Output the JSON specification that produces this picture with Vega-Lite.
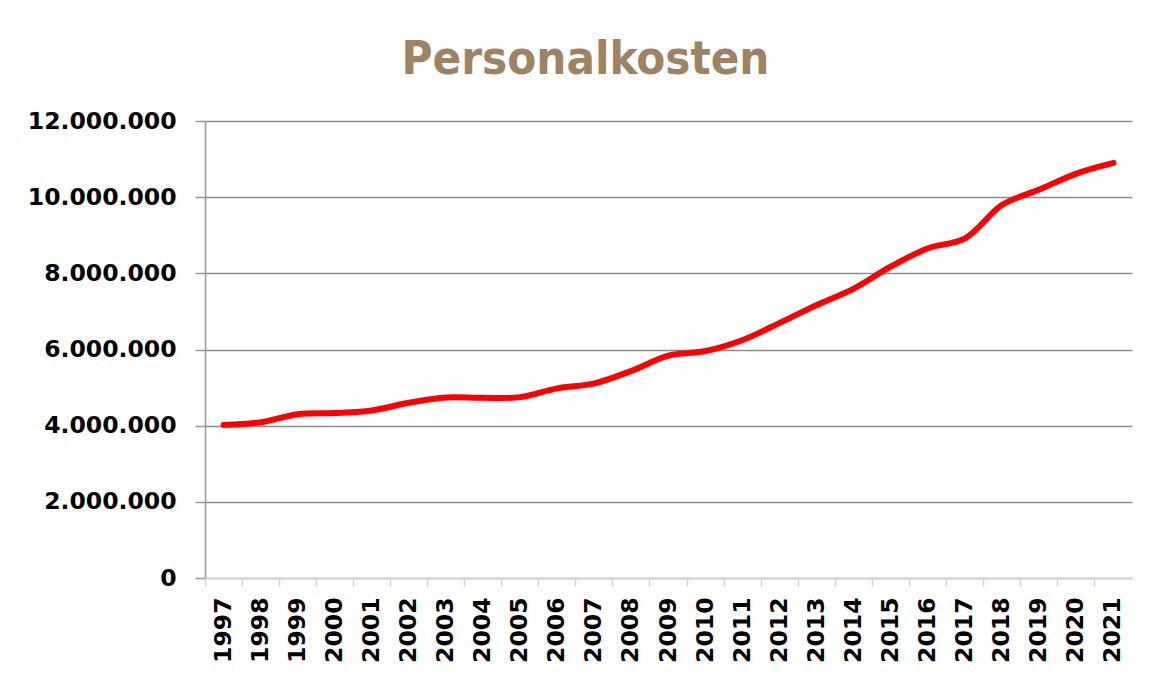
{
  "$schema": "https://vega.github.io/schema/vega-lite/v6.json",
  "width": 927,
  "height": 457,
  "autosize": {"type": "none"},
  "padding": {"left": 205, "top": 121, "right": 21, "bottom": 95},
  "background": "white",
  "title": {
    "text": "Personalkosten",
    "font": "DejaVu Sans Condensed, DejaVu Sans",
    "fontSize": 47,
    "fontWeight": "bold",
    "color": "#9e8262",
    "anchor": "middle",
    "offset": 25,
    "dx": -83
  },
  "config": {
    "locale": {"number": {"decimal": ",", "thousands": ".", "grouping": [3], "currency": ["", " €"]}},
    "view": {"stroke": null},
    "axis": {
      "labelFont": "DejaVu Sans",
      "labelFontWeight": "bold",
      "labelFontSize": 23.5,
      "labelColor": "#000000",
      "title": null
    }
  },
  "data": {
    "values": [
      {"year": "1997", "value": 4020000},
      {"year": "1998", "value": 4090000},
      {"year": "1999", "value": 4300000},
      {"year": "2000", "value": 4330000},
      {"year": "2001", "value": 4400000},
      {"year": "2002", "value": 4600000},
      {"year": "2003", "value": 4740000},
      {"year": "2004", "value": 4730000},
      {"year": "2005", "value": 4750000},
      {"year": "2006", "value": 4980000},
      {"year": "2007", "value": 5110000},
      {"year": "2008", "value": 5440000},
      {"year": "2009", "value": 5840000},
      {"year": "2010", "value": 5960000},
      {"year": "2011", "value": 6250000},
      {"year": "2012", "value": 6700000},
      {"year": "2013", "value": 7170000},
      {"year": "2014", "value": 7600000},
      {"year": "2015", "value": 8180000},
      {"year": "2016", "value": 8660000},
      {"year": "2017", "value": 8920000},
      {"year": "2018", "value": 9800000},
      {"year": "2019", "value": 10200000},
      {"year": "2020", "value": 10620000},
      {"year": "2021", "value": 10900000}
    ]
  },
  "mark": {"type": "line", "color": "#ff0000", "strokeWidth": 6, "interpolate": "catmull-rom", "strokeCap": "round"},
  "encoding": {
    "x": {
      "field": "year",
      "type": "ordinal",
      "scale": {"type": "band", "paddingInner": 0, "paddingOuter": 0},
      "axis": {
        "labelAngle": -90,
        "labelAlign": "right",
        "labelBaseline": "middle",
        "labelPadding": 11,
        "bandPosition": 0,
        "tickColor": "#d0d0d0",
        "tickSize": 8,
        "tickWidth": 1.5,
        "domainColor": "#d9d9d9",
        "domainWidth": 2,
        "zindex": 1
      }
    },
    "y": {
      "field": "value",
      "type": "quantitative",
      "scale": {"domain": [0, 12000000], "nice": false},
      "axis": {
        "values": [0, 2000000, 4000000, 6000000, 8000000, 10000000, 12000000],
        "format": ",d",
        "grid": true,
        "gridColor": "#8c8c8c",
        "gridWidth": 1.5,
        "domainColor": "#999999",
        "domainWidth": 1.5,
        "tickColor": "#999999",
        "tickWidth": 1.5,
        "tickSize": 10,
        "labelPadding": 19
      }
    }
  }
}
